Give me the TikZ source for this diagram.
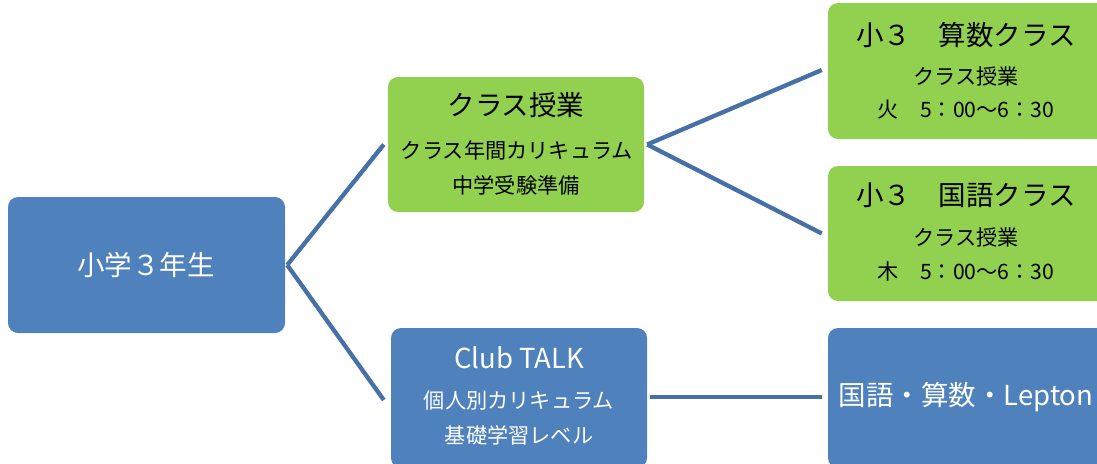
\documentclass[tikz,border=0pt]{standalone}
\usepackage{fontspec}
\setmainfont{Noto Sans CJK JP}
\usetikzlibrary{calc}
\definecolor{boxblue}{HTML}{4F81BD}
\definecolor{boxgreen}{HTML}{92D050}
\definecolor{linkblue}{HTML}{4670A6}
\tikzset{
  x=1pt, y=-1pt,
  bluebox/.style={draw=none, fill=boxblue, rounded corners=10pt, inner sep=0pt},
  greenbox/.style={draw=none, fill=boxgreen, rounded corners=10pt, inner sep=0pt},
  link/.style={draw=linkblue, line width=4.3pt},
  bigtxt/.style={font=\fontsize{27.5}{31}\selectfont, inner sep=0pt},
  smalltxt/.style={font=\fontsize{21.2}{25}\selectfont, inner sep=0pt},
}
\begin{document}
\begin{tikzpicture}
\useasboundingbox (0,0) rectangle (1097,463);
\clip (0,0) rectangle (1097,463);
% boxes
\node[bluebox, minimum width=277pt, minimum height=136pt] (root) at (146.5,265) {};
\node[greenbox, minimum width=256pt, minimum height=135pt] (b1) at (516,144.5) {};
\node[bluebox, minimum width=256pt, minimum height=140pt] (b2) at (519,398) {};
\node[greenbox, minimum width=290pt, minimum height=136pt] (c1) at (973,71) {};
\node[greenbox, minimum width=290pt, minimum height=135pt] (c2) at (973,233.5) {};
\node[bluebox, minimum width=290pt, minimum height=140pt] (c3) at (973,398) {};
% texts
\node[bigtxt, text=white] (troot) at (146,265) {小学３年生};
\node[bigtxt] (t1a) at (516,105) {クラス授業};
\node[smalltxt] (t1b) at (517,150) {クラス年間カリキュラム};
\node[smalltxt] (t1c) at (516,185) {中学受験準備};
\node[bigtxt, text=white] (t2a) at (519,358) {Club TALK};
\node[smalltxt, text=white] (t2b) at (519,401) {個人別カリキュラム};
\node[smalltxt, text=white] (t2c) at (519,435) {基礎学習レベル};
\node[bigtxt] (u1a) at (966,35) {小３　算数クラス};
\node[smalltxt] (u1b) at (966,76) {クラス授業};
\node[smalltxt] (u1c) at (966,110) {火　5：00～6：30};
\node[bigtxt] (u2a) at (966,195) {小３　国語クラス};
\node[smalltxt] (u2b) at (966,237) {クラス授業};
\node[smalltxt] (u2c) at (966,271) {木　5：00～6：30};
\node[bigtxt, text=white] (u3a) at (966,397) {国語・算数・Lepton};
% connectors
\coordinate (rj) at ($(root.east)+(2,0)$);
\draw[link] (rj) -- ($(b1.west)+(-4,0)$);
\draw[link] (rj) -- ($(b2.west)+(-7,2)$);
\coordinate (bj) at ($(b1.east)+(3,0)$);
\draw[link] (bj) -- ($(c1.west)+(-6,-1)$);
\draw[link] (bj) -- ($(c2.west)+(-6,0)$);
\draw[link] ($(b2.east)+(3,-1)$) -- ($(c3.west)+(-6,-1)$);
\end{tikzpicture}
\end{document}
